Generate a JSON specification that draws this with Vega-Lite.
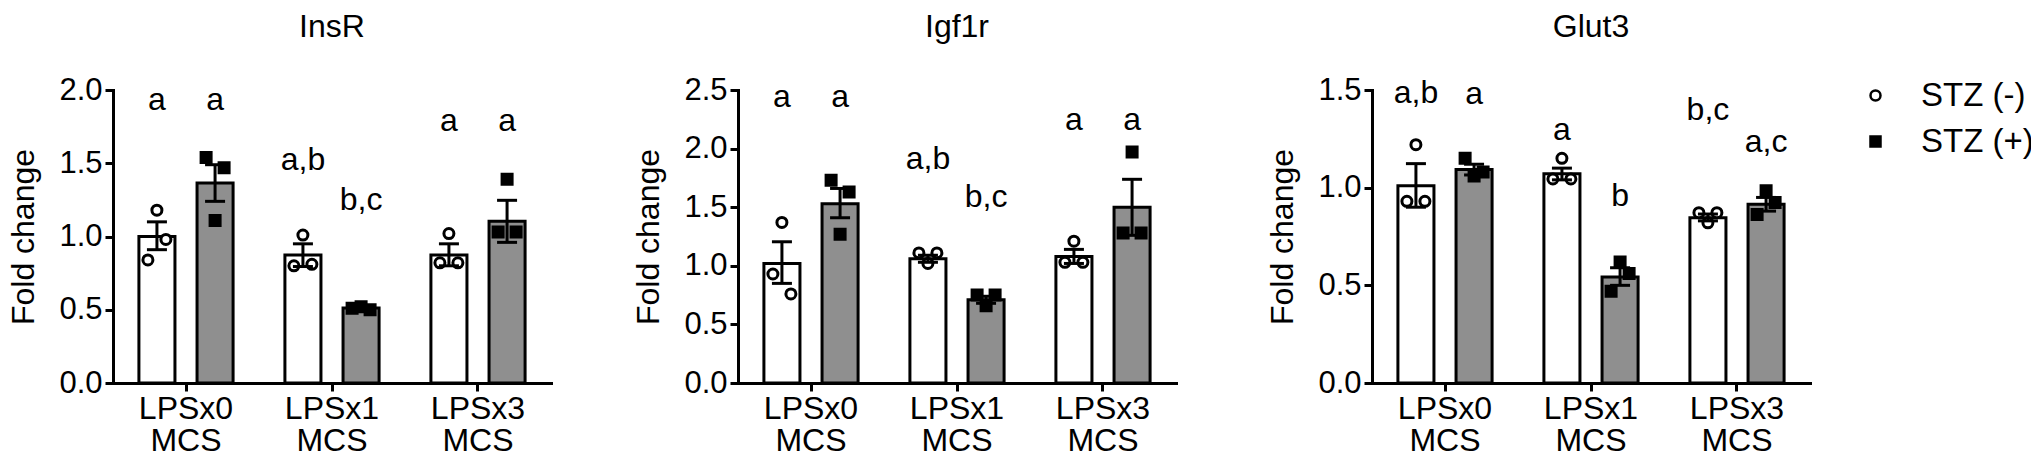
{
  "$schema": "https://vega.github.io/schema/vega-lite/v6.json",
  "padding": {"left": 7, "top": 11, "right": 5, "bottom": 5},
  "background": "white",
  "datasets": {
    "bars": [
      {"gene": "InsR", "group": "LPSx0 MCS", "stz": "STZ (-)", "mean": 1.0, "lo": 0.91, "hi": 1.1, "letter": "a", "label_y": 1.93},
      {"gene": "InsR", "group": "LPSx0 MCS", "stz": "STZ (+)", "mean": 1.365, "lo": 1.24, "hi": 1.49, "letter": "a", "label_y": 1.93},
      {"gene": "InsR", "group": "LPSx1 MCS", "stz": "STZ (-)", "mean": 0.873, "lo": 0.795, "hi": 0.95, "letter": "a,b", "label_y": 1.52},
      {"gene": "InsR", "group": "LPSx1 MCS", "stz": "STZ (+)", "mean": 0.512, "lo": 0.5, "hi": 0.525, "letter": "b,c", "label_y": 1.25},
      {"gene": "InsR", "group": "LPSx3 MCS", "stz": "STZ (-)", "mean": 0.873, "lo": 0.8, "hi": 0.95, "letter": "a", "label_y": 1.786},
      {"gene": "InsR", "group": "LPSx3 MCS", "stz": "STZ (+)", "mean": 1.104, "lo": 0.96, "hi": 1.247, "letter": "a", "label_y": 1.786},
      {"gene": "Igf1r", "group": "LPSx0 MCS", "stz": "STZ (-)", "mean": 1.02, "lo": 0.85, "hi": 1.205, "letter": "a", "label_y": 2.44},
      {"gene": "Igf1r", "group": "LPSx0 MCS", "stz": "STZ (+)", "mean": 1.53, "lo": 1.41, "hi": 1.66, "letter": "a", "label_y": 2.44},
      {"gene": "Igf1r", "group": "LPSx1 MCS", "stz": "STZ (-)", "mean": 1.06, "lo": 1.03, "hi": 1.09, "letter": "a,b", "label_y": 1.915},
      {"gene": "Igf1r", "group": "LPSx1 MCS", "stz": "STZ (+)", "mean": 0.71, "lo": 0.68, "hi": 0.74, "letter": "b,c", "label_y": 1.587},
      {"gene": "Igf1r", "group": "LPSx3 MCS", "stz": "STZ (-)", "mean": 1.08, "lo": 1.02, "hi": 1.14, "letter": "a", "label_y": 2.243},
      {"gene": "Igf1r", "group": "LPSx3 MCS", "stz": "STZ (+)", "mean": 1.5, "lo": 1.26, "hi": 1.738, "letter": "a", "label_y": 2.243},
      {"gene": "Glut3", "group": "LPSx0 MCS", "stz": "STZ (-)", "mean": 1.01, "lo": 0.9, "hi": 1.123, "letter": "a,b", "label_y": 1.486},
      {"gene": "Glut3", "group": "LPSx0 MCS", "stz": "STZ (+)", "mean": 1.093, "lo": 1.065, "hi": 1.12, "letter": "a", "label_y": 1.477},
      {"gene": "Glut3", "group": "LPSx1 MCS", "stz": "STZ (-)", "mean": 1.071, "lo": 1.04, "hi": 1.1, "letter": "a", "label_y": 1.296},
      {"gene": "Glut3", "group": "LPSx1 MCS", "stz": "STZ (+)", "mean": 0.543, "lo": 0.5, "hi": 0.59, "letter": "b", "label_y": 0.958},
      {"gene": "Glut3", "group": "LPSx3 MCS", "stz": "STZ (-)", "mean": 0.846, "lo": 0.83, "hi": 0.865, "letter": "b,c", "label_y": 1.4},
      {"gene": "Glut3", "group": "LPSx3 MCS", "stz": "STZ (+)", "mean": 0.915, "lo": 0.88, "hi": 0.95, "letter": "a,c", "label_y": 1.235}
    ],
    "points": [
      {"gene": "InsR", "group": "LPSx0 MCS", "stz": "STZ (-)", "rep": 1, "value": 0.84},
      {"gene": "InsR", "group": "LPSx0 MCS", "stz": "STZ (-)", "rep": 2, "value": 1.18},
      {"gene": "InsR", "group": "LPSx0 MCS", "stz": "STZ (-)", "rep": 3, "value": 0.98},
      {"gene": "InsR", "group": "LPSx0 MCS", "stz": "STZ (+)", "rep": 1, "value": 1.54},
      {"gene": "InsR", "group": "LPSx0 MCS", "stz": "STZ (+)", "rep": 2, "value": 1.11},
      {"gene": "InsR", "group": "LPSx0 MCS", "stz": "STZ (+)", "rep": 3, "value": 1.47},
      {"gene": "InsR", "group": "LPSx1 MCS", "stz": "STZ (-)", "rep": 1, "value": 0.8},
      {"gene": "InsR", "group": "LPSx1 MCS", "stz": "STZ (-)", "rep": 2, "value": 1.01},
      {"gene": "InsR", "group": "LPSx1 MCS", "stz": "STZ (-)", "rep": 3, "value": 0.81},
      {"gene": "InsR", "group": "LPSx1 MCS", "stz": "STZ (+)", "rep": 1, "value": 0.51},
      {"gene": "InsR", "group": "LPSx1 MCS", "stz": "STZ (+)", "rep": 2, "value": 0.52},
      {"gene": "InsR", "group": "LPSx1 MCS", "stz": "STZ (+)", "rep": 3, "value": 0.5},
      {"gene": "InsR", "group": "LPSx3 MCS", "stz": "STZ (-)", "rep": 1, "value": 0.82},
      {"gene": "InsR", "group": "LPSx3 MCS", "stz": "STZ (-)", "rep": 2, "value": 1.02},
      {"gene": "InsR", "group": "LPSx3 MCS", "stz": "STZ (-)", "rep": 3, "value": 0.82},
      {"gene": "InsR", "group": "LPSx3 MCS", "stz": "STZ (+)", "rep": 1, "value": 1.03},
      {"gene": "InsR", "group": "LPSx3 MCS", "stz": "STZ (+)", "rep": 2, "value": 1.39},
      {"gene": "InsR", "group": "LPSx3 MCS", "stz": "STZ (+)", "rep": 3, "value": 1.03},
      {"gene": "Igf1r", "group": "LPSx0 MCS", "stz": "STZ (-)", "rep": 1, "value": 0.93},
      {"gene": "Igf1r", "group": "LPSx0 MCS", "stz": "STZ (-)", "rep": 2, "value": 1.37},
      {"gene": "Igf1r", "group": "LPSx0 MCS", "stz": "STZ (-)", "rep": 3, "value": 0.76},
      {"gene": "Igf1r", "group": "LPSx0 MCS", "stz": "STZ (+)", "rep": 1, "value": 1.73},
      {"gene": "Igf1r", "group": "LPSx0 MCS", "stz": "STZ (+)", "rep": 2, "value": 1.27},
      {"gene": "Igf1r", "group": "LPSx0 MCS", "stz": "STZ (+)", "rep": 3, "value": 1.63},
      {"gene": "Igf1r", "group": "LPSx1 MCS", "stz": "STZ (-)", "rep": 1, "value": 1.11},
      {"gene": "Igf1r", "group": "LPSx1 MCS", "stz": "STZ (-)", "rep": 2, "value": 1.02},
      {"gene": "Igf1r", "group": "LPSx1 MCS", "stz": "STZ (-)", "rep": 3, "value": 1.11},
      {"gene": "Igf1r", "group": "LPSx1 MCS", "stz": "STZ (+)", "rep": 1, "value": 0.75},
      {"gene": "Igf1r", "group": "LPSx1 MCS", "stz": "STZ (+)", "rep": 2, "value": 0.66},
      {"gene": "Igf1r", "group": "LPSx1 MCS", "stz": "STZ (+)", "rep": 3, "value": 0.75},
      {"gene": "Igf1r", "group": "LPSx3 MCS", "stz": "STZ (-)", "rep": 1, "value": 1.03},
      {"gene": "Igf1r", "group": "LPSx3 MCS", "stz": "STZ (-)", "rep": 2, "value": 1.21},
      {"gene": "Igf1r", "group": "LPSx3 MCS", "stz": "STZ (-)", "rep": 3, "value": 1.03},
      {"gene": "Igf1r", "group": "LPSx3 MCS", "stz": "STZ (+)", "rep": 1, "value": 1.28},
      {"gene": "Igf1r", "group": "LPSx3 MCS", "stz": "STZ (+)", "rep": 2, "value": 1.97},
      {"gene": "Igf1r", "group": "LPSx3 MCS", "stz": "STZ (+)", "rep": 3, "value": 1.28},
      {"gene": "Glut3", "group": "LPSx0 MCS", "stz": "STZ (-)", "rep": 1, "value": 0.93},
      {"gene": "Glut3", "group": "LPSx0 MCS", "stz": "STZ (-)", "rep": 2, "value": 1.22},
      {"gene": "Glut3", "group": "LPSx0 MCS", "stz": "STZ (-)", "rep": 3, "value": 0.93},
      {"gene": "Glut3", "group": "LPSx0 MCS", "stz": "STZ (+)", "rep": 1, "value": 1.15},
      {"gene": "Glut3", "group": "LPSx0 MCS", "stz": "STZ (+)", "rep": 2, "value": 1.06},
      {"gene": "Glut3", "group": "LPSx0 MCS", "stz": "STZ (+)", "rep": 3, "value": 1.08},
      {"gene": "Glut3", "group": "LPSx1 MCS", "stz": "STZ (-)", "rep": 1, "value": 1.045},
      {"gene": "Glut3", "group": "LPSx1 MCS", "stz": "STZ (-)", "rep": 2, "value": 1.15},
      {"gene": "Glut3", "group": "LPSx1 MCS", "stz": "STZ (-)", "rep": 3, "value": 1.045},
      {"gene": "Glut3", "group": "LPSx1 MCS", "stz": "STZ (+)", "rep": 1, "value": 0.47},
      {"gene": "Glut3", "group": "LPSx1 MCS", "stz": "STZ (+)", "rep": 2, "value": 0.62},
      {"gene": "Glut3", "group": "LPSx1 MCS", "stz": "STZ (+)", "rep": 3, "value": 0.56},
      {"gene": "Glut3", "group": "LPSx3 MCS", "stz": "STZ (-)", "rep": 1, "value": 0.872},
      {"gene": "Glut3", "group": "LPSx3 MCS", "stz": "STZ (-)", "rep": 2, "value": 0.82},
      {"gene": "Glut3", "group": "LPSx3 MCS", "stz": "STZ (-)", "rep": 3, "value": 0.872},
      {"gene": "Glut3", "group": "LPSx3 MCS", "stz": "STZ (+)", "rep": 1, "value": 0.863},
      {"gene": "Glut3", "group": "LPSx3 MCS", "stz": "STZ (+)", "rep": 2, "value": 0.984},
      {"gene": "Glut3", "group": "LPSx3 MCS", "stz": "STZ (+)", "rep": 3, "value": 0.924}
    ]
  },
  "hconcat": [
    {
      "hconcat": [
        {
          "title": {"text": "InsR"},
          "width": 438, "height": 293,
          "layer": [
            {"data": {"name": "bars"}, "transform": [{"filter": "datum.gene == 'InsR' && datum.stz == 'STZ (-)'"}],
             "mark": {"type": "bar", "fill": "white", "stroke": "black", "strokeWidth": 3},
             "encoding": {
               "x": {"field": "group", "type": "nominal", "title": null, "scale": {"paddingInner": 0.355, "paddingOuter": 0.1775}},
               "xOffset": {"field": "stz", "type": "nominal", "scale": {"type": "band", "domain": ["STZ (-)", "STZ (+)"], "paddingInner": 0.38, "paddingOuter": 0}},
               "y": {"field": "mean", "type": "quantitative", "title": "Fold change", "scale": {"domain": [0, 2], "nice": false}, "axis": {"values": [0, 0.5, 1, 1.5, 2], "format": ".1f"}}
             }},
            {"data": {"name": "bars"}, "transform": [{"filter": "datum.gene == 'InsR' && datum.stz == 'STZ (+)'"}],
             "mark": {"type": "bar", "fill": "#8f8f8f", "stroke": "black", "strokeWidth": 3},
             "encoding": {
               "x": {"field": "group", "type": "nominal", "title": null, "scale": {"paddingInner": 0.355, "paddingOuter": 0.1775}},
               "xOffset": {"field": "stz", "type": "nominal", "scale": {"type": "band", "domain": ["STZ (-)", "STZ (+)"], "paddingInner": 0.38, "paddingOuter": 0}},
               "y": {"field": "mean", "type": "quantitative", "title": "Fold change"}
             }},
            {"data": {"name": "points"}, "transform": [{"filter": "datum.gene == 'InsR' && datum.stz == 'STZ (-)'"}],
             "mark": {"type": "point", "filled": true, "stroke": "black", "strokeWidth": 3, "size": 100, "opacity": 1},
             "encoding": {
               "x": {"field": "group", "type": "nominal", "title": null, "scale": {"paddingInner": 0.355, "paddingOuter": 0.1775}},
               "xOffset": {"field": "rep", "type": "quantitative", "scale": {"domain": [0, 10.47], "nice": false, "zero": false}},
               "y": {"field": "value", "type": "quantitative", "title": "Fold change"},
               "shape": {"field": "stz", "type": "nominal", "scale": {"domain": ["STZ (-)", "STZ (+)"], "range": ["circle", "square"]}, "legend": null},
               "fill": {"field": "stz", "type": "nominal", "scale": {"domain": ["STZ (-)", "STZ (+)"], "range": ["white", "black"]}, "legend": null}
             }},
            {"data": {"name": "points"}, "transform": [{"filter": "datum.gene == 'InsR' && datum.stz == 'STZ (+)'"}],
             "mark": {"type": "point", "filled": true, "stroke": "black", "strokeWidth": 3, "size": 100, "opacity": 1},
             "encoding": {
               "x": {"field": "group", "type": "nominal", "title": null, "scale": {"paddingInner": 0.355, "paddingOuter": 0.1775}},
               "xOffset": {"field": "rep", "type": "quantitative", "scale": {"domain": [-6.47, 4.0], "nice": false, "zero": false}},
               "y": {"field": "value", "type": "quantitative", "title": "Fold change"},
               "shape": {"field": "stz", "type": "nominal", "scale": {"domain": ["STZ (-)", "STZ (+)"], "range": ["circle", "square"]}, "legend": null},
               "fill": {"field": "stz", "type": "nominal", "scale": {"domain": ["STZ (-)", "STZ (+)"], "range": ["white", "black"]}, "legend": null}
             }},
            {"data": {"name": "bars"}, "transform": [{"filter": "datum.gene == 'InsR'"}],
             "mark": {"type": "rule", "strokeWidth": 3, "color": "black"},
             "encoding": {
               "x": {"field": "group", "type": "nominal", "title": null, "scale": {"paddingInner": 0.355, "paddingOuter": 0.1775}},
               "xOffset": {"field": "stz", "type": "nominal", "scale": {"type": "band", "domain": ["STZ (-)", "STZ (+)"], "paddingInner": 0.38, "paddingOuter": 0}},
               "y": {"field": "lo", "type": "quantitative", "title": "Fold change"},
               "y2": {"field": "hi"}
             }},
            {"data": {"name": "bars"}, "transform": [{"filter": "datum.gene == 'InsR'"}],
             "mark": {"type": "tick", "orient": "horizontal", "size": 20, "thickness": 3, "color": "black", "opacity": 1},
             "encoding": {
               "x": {"field": "group", "type": "nominal", "title": null, "scale": {"paddingInner": 0.355, "paddingOuter": 0.1775}},
               "xOffset": {"field": "stz", "type": "nominal", "scale": {"type": "band", "domain": ["STZ (-)", "STZ (+)"], "paddingInner": 0.38, "paddingOuter": 0}},
               "y": {"field": "lo", "type": "quantitative", "title": "Fold change"}
             }},
            {"data": {"name": "bars"}, "transform": [{"filter": "datum.gene == 'InsR'"}],
             "mark": {"type": "tick", "orient": "horizontal", "size": 20, "thickness": 3, "color": "black", "opacity": 1},
             "encoding": {
               "x": {"field": "group", "type": "nominal", "title": null, "scale": {"paddingInner": 0.355, "paddingOuter": 0.1775}},
               "xOffset": {"field": "stz", "type": "nominal", "scale": {"type": "band", "domain": ["STZ (-)", "STZ (+)"], "paddingInner": 0.38, "paddingOuter": 0}},
               "y": {"field": "hi", "type": "quantitative", "title": "Fold change"}
             }},
            {"data": {"name": "bars"}, "transform": [{"filter": "datum.gene == 'InsR'"}],
             "mark": {"type": "text", "fontSize": 32, "baseline": "middle", "color": "black"},
             "encoding": {
               "x": {"field": "group", "type": "nominal", "title": null, "scale": {"paddingInner": 0.355, "paddingOuter": 0.1775}},
               "xOffset": {"field": "stz", "type": "nominal", "scale": {"type": "band", "domain": ["STZ (-)", "STZ (+)"], "paddingInner": 0.38, "paddingOuter": 0}},
               "y": {"field": "label_y", "type": "quantitative", "title": "Fold change"},
               "text": {"field": "letter"}
             }}
          ],
          "resolve": {"scale": {"xOffset": "independent"}}
        },
        {
          "title": {"text": "Igf1r"},
          "width": 438, "height": 293,
          "layer": [
            {"data": {"name": "bars"}, "transform": [{"filter": "datum.gene == 'Igf1r' && datum.stz == 'STZ (-)'"}],
             "mark": {"type": "bar", "fill": "white", "stroke": "black", "strokeWidth": 3},
             "encoding": {
               "x": {"field": "group", "type": "nominal", "title": null, "scale": {"paddingInner": 0.355, "paddingOuter": 0.1775}},
               "xOffset": {"field": "stz", "type": "nominal", "scale": {"type": "band", "domain": ["STZ (-)", "STZ (+)"], "paddingInner": 0.38, "paddingOuter": 0}},
               "y": {"field": "mean", "type": "quantitative", "title": "Fold change", "scale": {"domain": [0, 2.5], "nice": false}, "axis": {"values": [0, 0.5, 1, 1.5, 2, 2.5], "format": ".1f"}}
             }},
            {"data": {"name": "bars"}, "transform": [{"filter": "datum.gene == 'Igf1r' && datum.stz == 'STZ (+)'"}],
             "mark": {"type": "bar", "fill": "#8f8f8f", "stroke": "black", "strokeWidth": 3},
             "encoding": {
               "x": {"field": "group", "type": "nominal", "title": null, "scale": {"paddingInner": 0.355, "paddingOuter": 0.1775}},
               "xOffset": {"field": "stz", "type": "nominal", "scale": {"type": "band", "domain": ["STZ (-)", "STZ (+)"], "paddingInner": 0.38, "paddingOuter": 0}},
               "y": {"field": "mean", "type": "quantitative", "title": "Fold change"}
             }},
            {"data": {"name": "points"}, "transform": [{"filter": "datum.gene == 'Igf1r' && datum.stz == 'STZ (-)'"}],
             "mark": {"type": "point", "filled": true, "stroke": "black", "strokeWidth": 3, "size": 100, "opacity": 1},
             "encoding": {
               "x": {"field": "group", "type": "nominal", "title": null, "scale": {"paddingInner": 0.355, "paddingOuter": 0.1775}},
               "xOffset": {"field": "rep", "type": "quantitative", "scale": {"domain": [0, 10.47], "nice": false, "zero": false}},
               "y": {"field": "value", "type": "quantitative", "title": "Fold change"},
               "shape": {"field": "stz", "type": "nominal", "scale": {"domain": ["STZ (-)", "STZ (+)"], "range": ["circle", "square"]}, "legend": null},
               "fill": {"field": "stz", "type": "nominal", "scale": {"domain": ["STZ (-)", "STZ (+)"], "range": ["white", "black"]}, "legend": null}
             }},
            {"data": {"name": "points"}, "transform": [{"filter": "datum.gene == 'Igf1r' && datum.stz == 'STZ (+)'"}],
             "mark": {"type": "point", "filled": true, "stroke": "black", "strokeWidth": 3, "size": 100, "opacity": 1},
             "encoding": {
               "x": {"field": "group", "type": "nominal", "title": null, "scale": {"paddingInner": 0.355, "paddingOuter": 0.1775}},
               "xOffset": {"field": "rep", "type": "quantitative", "scale": {"domain": [-6.47, 4.0], "nice": false, "zero": false}},
               "y": {"field": "value", "type": "quantitative", "title": "Fold change"},
               "shape": {"field": "stz", "type": "nominal", "scale": {"domain": ["STZ (-)", "STZ (+)"], "range": ["circle", "square"]}, "legend": null},
               "fill": {"field": "stz", "type": "nominal", "scale": {"domain": ["STZ (-)", "STZ (+)"], "range": ["white", "black"]}, "legend": null}
             }},
            {"data": {"name": "bars"}, "transform": [{"filter": "datum.gene == 'Igf1r'"}],
             "mark": {"type": "rule", "strokeWidth": 3, "color": "black"},
             "encoding": {
               "x": {"field": "group", "type": "nominal", "title": null, "scale": {"paddingInner": 0.355, "paddingOuter": 0.1775}},
               "xOffset": {"field": "stz", "type": "nominal", "scale": {"type": "band", "domain": ["STZ (-)", "STZ (+)"], "paddingInner": 0.38, "paddingOuter": 0}},
               "y": {"field": "lo", "type": "quantitative", "title": "Fold change"},
               "y2": {"field": "hi"}
             }},
            {"data": {"name": "bars"}, "transform": [{"filter": "datum.gene == 'Igf1r'"}],
             "mark": {"type": "tick", "orient": "horizontal", "size": 20, "thickness": 3, "color": "black", "opacity": 1},
             "encoding": {
               "x": {"field": "group", "type": "nominal", "title": null, "scale": {"paddingInner": 0.355, "paddingOuter": 0.1775}},
               "xOffset": {"field": "stz", "type": "nominal", "scale": {"type": "band", "domain": ["STZ (-)", "STZ (+)"], "paddingInner": 0.38, "paddingOuter": 0}},
               "y": {"field": "lo", "type": "quantitative", "title": "Fold change"}
             }},
            {"data": {"name": "bars"}, "transform": [{"filter": "datum.gene == 'Igf1r'"}],
             "mark": {"type": "tick", "orient": "horizontal", "size": 20, "thickness": 3, "color": "black", "opacity": 1},
             "encoding": {
               "x": {"field": "group", "type": "nominal", "title": null, "scale": {"paddingInner": 0.355, "paddingOuter": 0.1775}},
               "xOffset": {"field": "stz", "type": "nominal", "scale": {"type": "band", "domain": ["STZ (-)", "STZ (+)"], "paddingInner": 0.38, "paddingOuter": 0}},
               "y": {"field": "hi", "type": "quantitative", "title": "Fold change"}
             }},
            {"data": {"name": "bars"}, "transform": [{"filter": "datum.gene == 'Igf1r'"}],
             "mark": {"type": "text", "fontSize": 32, "baseline": "middle", "color": "black"},
             "encoding": {
               "x": {"field": "group", "type": "nominal", "title": null, "scale": {"paddingInner": 0.355, "paddingOuter": 0.1775}},
               "xOffset": {"field": "stz", "type": "nominal", "scale": {"type": "band", "domain": ["STZ (-)", "STZ (+)"], "paddingInner": 0.38, "paddingOuter": 0}},
               "y": {"field": "label_y", "type": "quantitative", "title": "Fold change"},
               "text": {"field": "letter"}
             }}
          ],
          "resolve": {"scale": {"xOffset": "independent"}}
        }
      ],
      "spacing": 81,
      "resolve": {"scale": {"fill": "independent", "shape": "independent", "stroke": "independent", "xOffset": "independent"}, "legend": {"fill": "independent", "shape": "independent", "stroke": "independent"}}
    },
    {
      "title": {"text": "Glut3"},
      "width": 438, "height": 293,
      "layer": [
        {"data": {"name": "bars"}, "transform": [{"filter": "datum.gene == 'Glut3' && datum.stz == 'STZ (-)'"}],
         "mark": {"type": "bar", "fill": "white", "stroke": "black", "strokeWidth": 3},
         "encoding": {
           "x": {"field": "group", "type": "nominal", "title": null, "scale": {"paddingInner": 0.355, "paddingOuter": 0.1775}},
           "xOffset": {"field": "stz", "type": "nominal", "scale": {"type": "band", "domain": ["STZ (-)", "STZ (+)"], "paddingInner": 0.38, "paddingOuter": 0}},
           "y": {"field": "mean", "type": "quantitative", "title": "Fold change", "scale": {"domain": [0, 1.5], "nice": false}, "axis": {"values": [0, 0.5, 1, 1.5], "format": ".1f"}}
         }},
        {"data": {"name": "bars"}, "transform": [{"filter": "datum.gene == 'Glut3' && datum.stz == 'STZ (+)'"}],
         "mark": {"type": "bar", "fill": "#8f8f8f", "stroke": "black", "strokeWidth": 3},
         "encoding": {
           "x": {"field": "group", "type": "nominal", "title": null, "scale": {"paddingInner": 0.355, "paddingOuter": 0.1775}},
           "xOffset": {"field": "stz", "type": "nominal", "scale": {"type": "band", "domain": ["STZ (-)", "STZ (+)"], "paddingInner": 0.38, "paddingOuter": 0}},
           "y": {"field": "mean", "type": "quantitative", "title": "Fold change"}
         }},
        {"data": {"name": "points"}, "transform": [{"filter": "datum.gene == 'Glut3' && datum.stz == 'STZ (-)'"}],
         "mark": {"type": "point", "filled": true, "strokeWidth": 3, "size": 100, "opacity": 1},
         "encoding": {
           "x": {"field": "group", "type": "nominal", "title": null, "scale": {"paddingInner": 0.355, "paddingOuter": 0.1775}},
           "xOffset": {"field": "rep", "type": "quantitative", "scale": {"domain": [0, 10.47], "nice": false, "zero": false}},
           "y": {"field": "value", "type": "quantitative", "title": "Fold change"},
           "shape": {"field": "stz", "type": "nominal", "scale": {"domain": ["STZ (-)", "STZ (+)"], "range": ["circle", "square"]},
                     "legend": {"orient": "none", "legendX": 487, "legendY": -11, "title": null, "labelFontSize": 33, "labelColor": "black", "symbolSize": 100, "symbolStrokeWidth": 2.5, "rowPadding": 12, "labelOffset": 29, "padding": 0}},
           "fill": {"field": "stz", "type": "nominal", "scale": {"domain": ["STZ (-)", "STZ (+)"], "range": ["white", "black"]},
                     "legend": {"orient": "none", "legendX": 487, "legendY": -11, "title": null, "labelFontSize": 33, "labelColor": "black", "symbolSize": 100, "symbolStrokeWidth": 2.5, "rowPadding": 12, "labelOffset": 29, "padding": 0}},
           "stroke": {"field": "stz", "type": "nominal", "scale": {"domain": ["STZ (-)", "STZ (+)"], "range": ["black", "black"]},
                     "legend": {"orient": "none", "legendX": 487, "legendY": -11, "title": null, "labelFontSize": 33, "labelColor": "black", "symbolSize": 100, "symbolStrokeWidth": 2.5, "rowPadding": 12, "labelOffset": 29, "padding": 0}}
         }},
        {"data": {"name": "points"}, "transform": [{"filter": "datum.gene == 'Glut3' && datum.stz == 'STZ (+)'"}],
         "mark": {"type": "point", "filled": true, "strokeWidth": 3, "size": 100, "opacity": 1},
         "encoding": {
           "x": {"field": "group", "type": "nominal", "title": null, "scale": {"paddingInner": 0.355, "paddingOuter": 0.1775}},
           "xOffset": {"field": "rep", "type": "quantitative", "scale": {"domain": [-6.47, 4.0], "nice": false, "zero": false}},
           "y": {"field": "value", "type": "quantitative", "title": "Fold change"},
           "shape": {"field": "stz", "type": "nominal", "scale": {"domain": ["STZ (-)", "STZ (+)"], "range": ["circle", "square"]},
                     "legend": {"orient": "none", "legendX": 487, "legendY": -11, "title": null, "labelFontSize": 33, "labelColor": "black", "symbolSize": 100, "symbolStrokeWidth": 2.5, "rowPadding": 12, "labelOffset": 29, "padding": 0}},
           "fill": {"field": "stz", "type": "nominal", "scale": {"domain": ["STZ (-)", "STZ (+)"], "range": ["white", "black"]},
                     "legend": {"orient": "none", "legendX": 487, "legendY": -11, "title": null, "labelFontSize": 33, "labelColor": "black", "symbolSize": 100, "symbolStrokeWidth": 2.5, "rowPadding": 12, "labelOffset": 29, "padding": 0}},
           "stroke": {"field": "stz", "type": "nominal", "scale": {"domain": ["STZ (-)", "STZ (+)"], "range": ["black", "black"]},
                     "legend": {"orient": "none", "legendX": 487, "legendY": -11, "title": null, "labelFontSize": 33, "labelColor": "black", "symbolSize": 100, "symbolStrokeWidth": 2.5, "rowPadding": 12, "labelOffset": 29, "padding": 0}}
         }},
        {"data": {"name": "bars"}, "transform": [{"filter": "datum.gene == 'Glut3'"}],
         "mark": {"type": "rule", "strokeWidth": 3, "color": "black"},
         "encoding": {
           "x": {"field": "group", "type": "nominal", "title": null, "scale": {"paddingInner": 0.355, "paddingOuter": 0.1775}},
           "xOffset": {"field": "stz", "type": "nominal", "scale": {"type": "band", "domain": ["STZ (-)", "STZ (+)"], "paddingInner": 0.38, "paddingOuter": 0}},
           "y": {"field": "lo", "type": "quantitative", "title": "Fold change"},
           "y2": {"field": "hi"}
         }},
        {"data": {"name": "bars"}, "transform": [{"filter": "datum.gene == 'Glut3'"}],
         "mark": {"type": "tick", "orient": "horizontal", "size": 20, "thickness": 3, "color": "black", "opacity": 1},
         "encoding": {
           "x": {"field": "group", "type": "nominal", "title": null, "scale": {"paddingInner": 0.355, "paddingOuter": 0.1775}},
           "xOffset": {"field": "stz", "type": "nominal", "scale": {"type": "band", "domain": ["STZ (-)", "STZ (+)"], "paddingInner": 0.38, "paddingOuter": 0}},
           "y": {"field": "lo", "type": "quantitative", "title": "Fold change"}
         }},
        {"data": {"name": "bars"}, "transform": [{"filter": "datum.gene == 'Glut3'"}],
         "mark": {"type": "tick", "orient": "horizontal", "size": 20, "thickness": 3, "color": "black", "opacity": 1},
         "encoding": {
           "x": {"field": "group", "type": "nominal", "title": null, "scale": {"paddingInner": 0.355, "paddingOuter": 0.1775}},
           "xOffset": {"field": "stz", "type": "nominal", "scale": {"type": "band", "domain": ["STZ (-)", "STZ (+)"], "paddingInner": 0.38, "paddingOuter": 0}},
           "y": {"field": "hi", "type": "quantitative", "title": "Fold change"}
         }},
        {"data": {"name": "bars"}, "transform": [{"filter": "datum.gene == 'Glut3'"}],
         "mark": {"type": "text", "fontSize": 32, "baseline": "middle", "color": "black"},
         "encoding": {
           "x": {"field": "group", "type": "nominal", "title": null, "scale": {"paddingInner": 0.355, "paddingOuter": 0.1775}},
           "xOffset": {"field": "stz", "type": "nominal", "scale": {"type": "band", "domain": ["STZ (-)", "STZ (+)"], "paddingInner": 0.38, "paddingOuter": 0}},
           "y": {"field": "label_y", "type": "quantitative", "title": "Fold change"},
           "text": {"field": "letter"}
         }}
      ],
      "resolve": {"scale": {"xOffset": "independent"}}
    }
  ],
  "spacing": 90,
  "resolve": {"scale": {"fill": "independent", "shape": "independent", "stroke": "independent", "xOffset": "independent"}, "legend": {"fill": "independent", "shape": "independent", "stroke": "independent"}},
  "config": {
    "font": "Liberation Sans",
    "view": {"stroke": null},
    "axis": {
      "domainColor": "black", "domainWidth": 3, "domainCap": "square",
      "tickColor": "black", "tickWidth": 3, "tickSize": 8,
      "labelColor": "black", "titleColor": "black", "grid": false,
      "labelFontSize": 31, "titleFontSize": 32, "titleFontWeight": "normal"
    },
    "axisX": {"labelAngle": 0, "labelFontSize": 32, "labelLineHeight": 32, "labelPadding": 2, "labelExpr": "split(datum.label, ' ')"},
    "axisY": {"labelPadding": 3, "titlePadding": 18},
    "title": {"fontSize": 32, "fontWeight": "normal", "color": "black", "frame": "group", "offset": 30, "anchor": "middle"}
  }
}
